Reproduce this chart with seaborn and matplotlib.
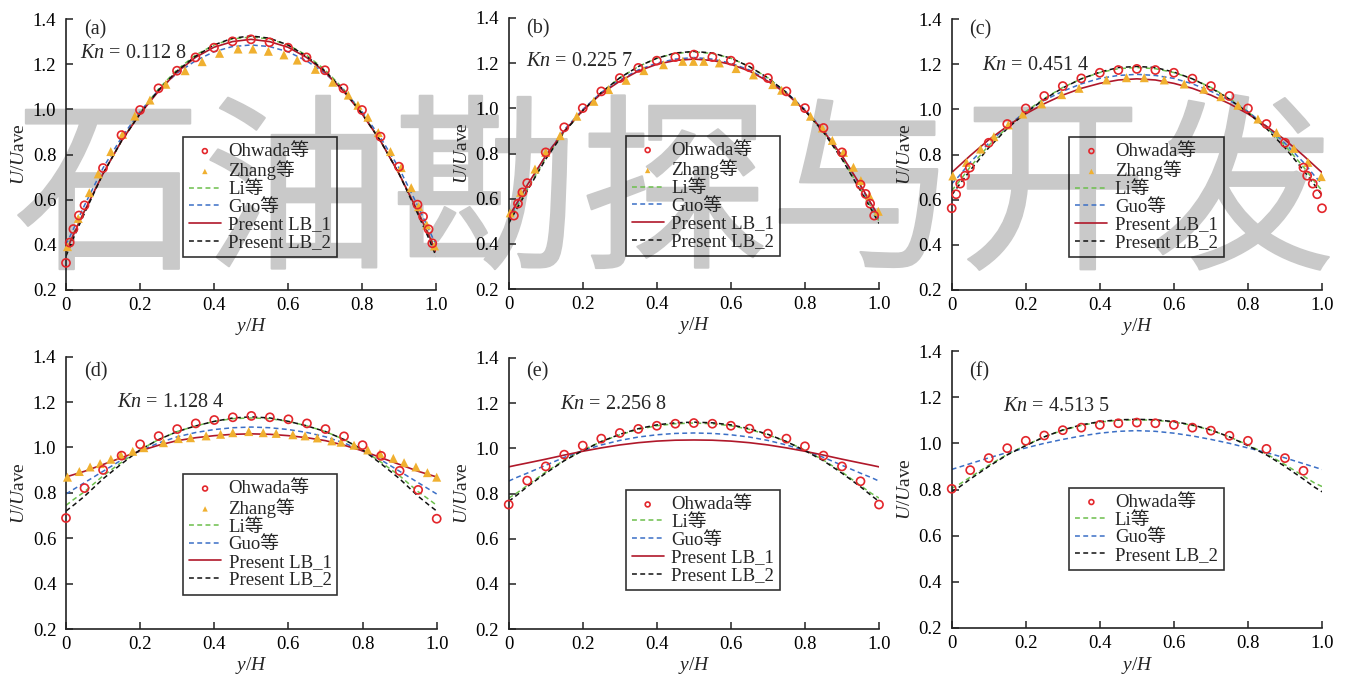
import matplotlib
matplotlib.use("Agg")
import matplotlib.pyplot as plt
import matplotlib.patheffects as pe
import seaborn as sns

sns.set_theme(style="ticks")
plt.rcParams['font.family'] = ['Liberation Serif', 'Noto Sans CJK SC']
plt.rcParams['mathtext.fontset'] = 'custom'
plt.rcParams['mathtext.it'] = 'Liberation Serif:italic'
plt.rcParams['mathtext.rm'] = 'Liberation Serif'

# x positions of the model curves
line_y = [0, 0.02, 0.05, 0.1, 0.15, 0.2, 0.25, 0.3, 0.35, 0.4, 0.45, 0.5,
          0.55, 0.6, 0.65, 0.7, 0.75, 0.8, 0.85, 0.9, 0.95, 0.98, 1.0]
grid21 = [0, 0.05, 0.1, 0.15, 0.2, 0.25, 0.3, 0.35, 0.4, 0.45, 0.5,
          0.55, 0.6, 0.65, 0.7, 0.75, 0.8, 0.85, 0.9, 0.95, 1.0]

kn_labels = ["0.112 8", "0.225 7", "0.451 4", "1.128 4", "2.256 8", "4.513 5"]
panel_tags = ["(a)", "(b)", "(c)", "(d)", "(e)", "(f)"]

# (a) Kn = 0.1128
ohw_a_x = [0, 0.01, 0.02, 0.035, 0.05, 0.1, 0.15, 0.2, 0.25, 0.3, 0.35, 0.4, 0.45, 0.5,
           0.55, 0.6, 0.65, 0.7, 0.75, 0.8, 0.85, 0.9, 0.95, 0.965, 0.98, 0.99]
ohw_a_u = [0.32, 0.41, 0.47, 0.53, 0.575, 0.74, 0.886, 0.997, 1.093, 1.171, 1.23, 1.273, 1.301, 1.31,
           1.297, 1.273, 1.23, 1.173, 1.093, 0.997, 0.879, 0.746, 0.578, 0.525, 0.469, 0.407]
zh_a_x = [0.004, 0.033, 0.063, 0.087, 0.121, 0.153, 0.186, 0.227, 0.270, 0.322, 0.368, 0.415, 0.465, 0.505,
          0.547, 0.589, 0.625, 0.674, 0.721, 0.763, 0.789, 0.816, 0.844, 0.877, 0.906, 0.933, 0.953, 0.975, 0.996]
zh_a_u = [0.392, 0.517, 0.631, 0.714, 0.813, 0.889, 0.970, 1.041, 1.111, 1.171, 1.211, 1.248, 1.267, 1.267,
          1.257, 1.241, 1.218, 1.177, 1.120, 1.063, 1.018, 0.965, 0.897, 0.813, 0.742, 0.653, 0.569, 0.488, 0.395]
li_a = [0.38, 0.45, 0.55, 0.715, 0.86, 0.985, 1.09, 1.175, 1.24, 1.285, 1.312, 1.32,
        1.312, 1.285, 1.24, 1.175, 1.09, 0.985, 0.86, 0.715, 0.55, 0.45, 0.38]
guo_a = [0.40, 0.47, 0.575, 0.74, 0.875, 0.99, 1.085, 1.16, 1.215, 1.255, 1.278, 1.285,
         1.278, 1.255, 1.215, 1.16, 1.085, 0.99, 0.875, 0.74, 0.575, 0.47, 0.40]
lb1_a = [0.37, 0.445, 0.55, 0.715, 0.86, 0.98, 1.08, 1.165, 1.23, 1.275, 1.30, 1.31,
         1.30, 1.275, 1.23, 1.165, 1.08, 0.98, 0.86, 0.715, 0.55, 0.445, 0.37]
lb2_a = [0.35, 0.43, 0.54, 0.715, 0.86, 0.98, 1.085, 1.17, 1.235, 1.285, 1.315, 1.325,
         1.315, 1.285, 1.235, 1.17, 1.085, 0.98, 0.86, 0.715, 0.54, 0.43, 0.35]

# (b) Kn = 0.2257
ohw_b_x = [0.014, 0.025, 0.037, 0.05, 0.1, 0.15, 0.2, 0.25, 0.3, 0.35, 0.4, 0.45, 0.5,
           0.55, 0.6, 0.65, 0.7, 0.75, 0.8, 0.85, 0.9, 0.95, 0.964, 0.976, 0.987]
ohw_b_u = [0.525, 0.578, 0.628, 0.669, 0.805, 0.916, 1.001, 1.075, 1.134, 1.179, 1.211, 1.227, 1.238,
           1.227, 1.211, 1.182, 1.134, 1.075, 1.001, 0.913, 0.805, 0.662, 0.621, 0.578, 0.525]
zh_b_x = [0.004, 0.032, 0.071, 0.1, 0.139, 0.184, 0.230, 0.270, 0.317, 0.365, 0.418, 0.470, 0.499, 0.527,
          0.569, 0.614, 0.661, 0.713, 0.737, 0.773, 0.815, 0.847, 0.874, 0.904, 0.931, 0.951, 0.974, 0.998]
zh_b_u = [0.537, 0.628, 0.731, 0.805, 0.879, 0.965, 1.031, 1.083, 1.124, 1.167, 1.193, 1.208, 1.208, 1.208,
          1.201, 1.176, 1.148, 1.105, 1.080, 1.031, 0.965, 0.913, 0.858, 0.805, 0.739, 0.680, 0.613, 0.544]
li_b = [0.50, 0.56, 0.64, 0.78, 0.895, 0.99, 1.07, 1.135, 1.185, 1.222, 1.243, 1.25,
        1.243, 1.222, 1.185, 1.135, 1.07, 0.99, 0.895, 0.78, 0.64, 0.56, 0.50]
guo_b = [0.51, 0.57, 0.655, 0.79, 0.905, 0.995, 1.07, 1.125, 1.17, 1.20, 1.218, 1.225,
         1.218, 1.20, 1.17, 1.125, 1.07, 0.995, 0.905, 0.79, 0.655, 0.57, 0.51]
lb1_b = [0.52, 0.575, 0.66, 0.79, 0.90, 0.99, 1.065, 1.12, 1.165, 1.195, 1.212, 1.218,
         1.212, 1.195, 1.165, 1.12, 1.065, 0.99, 0.90, 0.79, 0.66, 0.575, 0.52]
lb2_b = [0.49, 0.55, 0.635, 0.775, 0.895, 0.99, 1.07, 1.135, 1.185, 1.222, 1.245, 1.252,
         1.245, 1.222, 1.185, 1.135, 1.07, 0.99, 0.895, 0.775, 0.635, 0.55, 0.49]

# (c) Kn = 0.4514
ohw_c_x = [0, 0.012, 0.023, 0.036, 0.049, 0.1, 0.15, 0.2, 0.25, 0.3, 0.35, 0.4, 0.45, 0.5,
           0.55, 0.6, 0.65, 0.7, 0.75, 0.8, 0.85, 0.9, 0.95, 0.96, 0.975, 0.987, 1.0]
ohw_c_u = [0.562, 0.624, 0.671, 0.706, 0.742, 0.852, 0.935, 1.004, 1.059, 1.103, 1.137, 1.162, 1.174, 1.179,
           1.174, 1.162, 1.136, 1.103, 1.059, 1.004, 0.935, 0.852, 0.742, 0.706, 0.671, 0.624, 0.562]
zh_c_x = [0.003, 0.040, 0.078, 0.114, 0.153, 0.192, 0.243, 0.297, 0.344, 0.418, 0.472,
          0.520, 0.574, 0.628, 0.681, 0.727, 0.773, 0.827, 0.877, 0.924, 0.962, 0.998]
zh_c_u = [0.705, 0.765, 0.824, 0.879, 0.931, 0.979, 1.024, 1.065, 1.093, 1.130, 1.140,
          1.140, 1.130, 1.112, 1.089, 1.056, 1.018, 0.957, 0.897, 0.827, 0.765, 0.702]
li_c = [0.64, 0.68, 0.745, 0.84, 0.92, 0.99, 1.048, 1.097, 1.135, 1.163, 1.18, 1.185,
        1.18, 1.163, 1.135, 1.097, 1.048, 0.99, 0.92, 0.84, 0.745, 0.68, 0.64]
guo_c = [0.67, 0.705, 0.765, 0.85, 0.925, 0.99, 1.04, 1.08, 1.113, 1.137, 1.15, 1.155,
         1.15, 1.137, 1.113, 1.08, 1.04, 0.99, 0.925, 0.85, 0.765, 0.705, 0.67]
lb1_c = [0.72, 0.75, 0.795, 0.865, 0.925, 0.98, 1.025, 1.063, 1.093, 1.115, 1.13, 1.135,
         1.13, 1.115, 1.093, 1.063, 1.025, 0.98, 0.925, 0.865, 0.795, 0.75, 0.72]
lb2_c = [0.62, 0.665, 0.73, 0.83, 0.915, 0.985, 1.045, 1.095, 1.135, 1.165, 1.185, 1.19,
         1.185, 1.165, 1.135, 1.095, 1.045, 0.985, 0.915, 0.83, 0.73, 0.665, 0.62]

# (d) Kn = 1.1284
ohw_d_u = [0.689, 0.821, 0.901, 0.964, 1.014, 1.05, 1.081, 1.106, 1.121, 1.133, 1.139,
           1.133, 1.124, 1.106, 1.081, 1.049, 1.010, 0.963, 0.897, 0.813, 0.686]
zh_d_x = [0.004, 0.036, 0.065, 0.092, 0.121, 0.148, 0.180, 0.21, 0.263, 0.303, 0.336, 0.378, 0.417, 0.450, 0.493,
          0.532, 0.567, 0.612, 0.645, 0.678, 0.717, 0.742, 0.777, 0.814, 0.847, 0.883, 0.912, 0.944, 0.975, 1.0]
zh_d_u = [0.869, 0.894, 0.914, 0.929, 0.948, 0.966, 0.983, 0.999, 1.021, 1.039, 1.043, 1.051, 1.058, 1.065, 1.070,
          1.065, 1.062, 1.056, 1.051, 1.042, 1.029, 1.023, 1.010, 0.989, 0.973, 0.952, 0.933, 0.914, 0.889, 0.869]
li_d = [0.745, 0.77, 0.805, 0.875, 0.935, 0.99, 1.035, 1.07, 1.095, 1.115, 1.127, 1.13,
        1.127, 1.115, 1.095, 1.07, 1.035, 0.99, 0.935, 0.875, 0.805, 0.77, 0.745]
guo_d = [0.795, 0.815, 0.845, 0.895, 0.945, 0.985, 1.02, 1.047, 1.066, 1.079, 1.087, 1.09,
         1.087, 1.079, 1.066, 1.047, 1.02, 0.985, 0.945, 0.895, 0.845, 0.815, 0.795]
lb1_d = [0.87, 0.88, 0.895, 0.925, 0.955, 0.985, 1.01, 1.03, 1.043, 1.052, 1.058, 1.06,
         1.058, 1.052, 1.043, 1.03, 1.01, 0.985, 0.955, 0.925, 0.895, 0.88, 0.87]
lb2_d = [0.72, 0.745, 0.785, 0.862, 0.928, 0.99, 1.035, 1.07, 1.095, 1.115, 1.13, 1.135,
         1.13, 1.115, 1.095, 1.07, 1.035, 0.99, 0.928, 0.862, 0.785, 0.745, 0.72]

# (e) Kn = 2.2568
ohw_e_u = [0.751, 0.857, 0.920, 0.972, 1.012, 1.043, 1.068, 1.086, 1.100, 1.109, 1.112,
           1.109, 1.100, 1.087, 1.065, 1.043, 1.009, 0.968, 0.920, 0.854, 0.751]
li_e = [0.78, 0.80, 0.835, 0.895, 0.948, 0.992, 1.03, 1.06, 1.084, 1.10, 1.109, 1.112,
        1.109, 1.10, 1.084, 1.06, 1.03, 0.992, 0.948, 0.895, 0.835, 0.80, 0.78]
guo_e = [0.855, 0.87, 0.89, 0.925, 0.96, 0.99, 1.015, 1.035, 1.05, 1.06, 1.066, 1.068,
         1.066, 1.06, 1.05, 1.035, 1.015, 0.99, 0.96, 0.925, 0.89, 0.87, 0.855]
lb1_e = [0.918, 0.925, 0.935, 0.952, 0.97, 0.987, 1.002, 1.015, 1.025, 1.032, 1.036, 1.037,
         1.036, 1.032, 1.025, 1.015, 1.002, 0.987, 0.97, 0.952, 0.935, 0.925, 0.918]
lb2_e = [0.765, 0.79, 0.83, 0.89, 0.945, 0.99, 1.03, 1.062, 1.087, 1.104, 1.113, 1.116,
         1.113, 1.104, 1.087, 1.062, 1.03, 0.99, 0.945, 0.89, 0.83, 0.79, 0.765]

# (f) Kn = 4.5135
ohw_f_x = [0, 0.05, 0.1, 0.15, 0.2, 0.25, 0.3, 0.35, 0.4, 0.45, 0.5,
           0.55, 0.6, 0.65, 0.7, 0.75, 0.8, 0.85, 0.9, 0.95]
ohw_f_u = [0.803, 0.884, 0.936, 0.979, 1.011, 1.034, 1.057, 1.068, 1.080, 1.087, 1.090,
           1.087, 1.080, 1.068, 1.055, 1.033, 1.011, 0.976, 0.936, 0.881]
li_f = [0.805, 0.822, 0.853, 0.905, 0.952, 0.992, 1.028, 1.057, 1.078, 1.092, 1.10, 1.102,
        1.10, 1.092, 1.078, 1.057, 1.028, 0.993, 0.954, 0.908, 0.858, 0.828, 0.813]
guo_f = [0.887, 0.897, 0.912, 0.937, 0.96, 0.98, 1.0, 1.017, 1.032, 1.044, 1.052, 1.055,
         1.052, 1.044, 1.032, 1.017, 1.0, 0.98, 0.96, 0.937, 0.912, 0.897, 0.887]
lb2_f = [0.79, 0.81, 0.845, 0.90, 0.95, 0.99, 1.028, 1.058, 1.08, 1.094, 1.102, 1.104,
         1.102, 1.094, 1.08, 1.058, 1.028, 0.99, 0.95, 0.90, 0.845, 0.81, 0.79]

c_ohw = '#e3262b'
c_zh = '#f0b030'
c_li = '#6cbf4c'
c_guo = '#3b6fc6'
c_lb1 = '#b0182a'
c_lb2 = '#111111'

panels = [
    dict(ohw=(ohw_a_x, ohw_a_u), zh=(zh_a_x, zh_a_u), li=li_a, guo=guo_a, lb1=lb1_a, lb2=lb2_a),
    dict(ohw=(ohw_b_x, ohw_b_u), zh=(zh_b_x, zh_b_u), li=li_b, guo=guo_b, lb1=lb1_b, lb2=lb2_b),
    dict(ohw=(ohw_c_x, ohw_c_u), zh=(zh_c_x, zh_c_u), li=li_c, guo=guo_c, lb1=lb1_c, lb2=lb2_c),
    dict(ohw=(grid21, ohw_d_u), zh=(zh_d_x, zh_d_u), li=li_d, guo=guo_d, lb1=lb1_d, lb2=lb2_d),
    dict(ohw=(grid21, ohw_e_u), zh=None, li=li_e, guo=guo_e, lb1=lb1_e, lb2=lb2_e),
    dict(ohw=(ohw_f_x, ohw_f_u), zh=None, li=li_f, guo=guo_f, lb1=None, lb2=lb2_f),
]

W, H = 1349, 679
# axes boxes in pixels: left, top, right, bottom
boxes = [(66, 19, 436, 290), (508.7, 18, 879, 289), (951.7, 19, 1322, 290),
         (66, 356.7, 436.7, 629), (508.7, 358, 879, 629), (951.7, 351, 1322, 628)]
leg_anchor = [(0.316, 0.565), (0.316, 0.565), (0.318, 0.565),
              (0.316, 0.568), (0.316, 0.512), (0.318, 0.506)]
kn_pos = [(0.038, 0.871), (0.047, 0.841), (0.082, 0.827),
          (0.138, 0.831), (0.139, 0.830), (0.139, 0.801)]
tag_pos = [(0.049, 0.959), (0.047, 0.959), (0.047, 0.959),
           (0.049, 0.945), (0.047, 0.948), (0.047, 0.924)]

fig = plt.figure(figsize=(W / 100, H / 100), dpi=100)
fig.patch.set_facecolor('white')

# journal watermark behind the plots
fig.text(0.5, 0.705, "石油勘探与开发", fontsize=136, color='#c9c9c9',
         family='Noto Sans CJK SC', ha='center', va='center', zorder=-5,
         path_effects=[pe.withStroke(linewidth=1.5, foreground='#c9c9c9')])

dash = (0, (3.2, 2.2))
for i, p in enumerate(panels):
    l, t, r, b = boxes[i]
    ax = fig.add_axes([l / W, 1 - b / H, (r - l) / W, (b - t) / H])
    ax.patch.set_alpha(0)

    sns.lineplot(x=line_y, y=p['li'], ax=ax, color=c_li, lw=1.1, linestyle=dash, label='Li等')
    sns.lineplot(x=line_y, y=p['guo'], ax=ax, color=c_guo, lw=1.1, linestyle=dash, label='Guo等')
    if p['lb1'] is not None:
        sns.lineplot(x=line_y, y=p['lb1'], ax=ax, color=c_lb1, lw=1.2, label='Present LB_1')
    sns.lineplot(x=line_y, y=p['lb2'], ax=ax, color=c_lb2, lw=1.1, linestyle=dash, label='Present LB_2')
    if p['zh'] is not None:
        sns.scatterplot(x=p['zh'][0], y=p['zh'][1], ax=ax, marker='^', s=42, color=c_zh,
                        edgecolor='none', linewidth=0, clip_on=False, zorder=4, label='Zhang等')
    sns.scatterplot(x=p['ohw'][0], y=p['ohw'][1], ax=ax, marker='o', s=34, facecolor='none',
                    edgecolor=c_ohw, linewidth=1.2, clip_on=False, zorder=5, label='Ohwada等')

    hs, ls = ax.get_legend_handles_labels()
    order = ['Ohwada等', 'Zhang等', 'Li等', 'Guo等', 'Present LB_1', 'Present LB_2']
    pairs = dict(zip(ls, hs))
    labels = [o for o in order if o in pairs]
    handles = [pairs[o] for o in labels]
    leg = ax.legend(handles, labels, loc='upper left', bbox_to_anchor=leg_anchor[i],
                    borderaxespad=0, fontsize=13.5, frameon=True, fancybox=False,
                    edgecolor='black', facecolor='none', framealpha=None,
                    handlelength=1.7, handletextpad=0.4, labelspacing=0.03,
                    borderpad=0.32, markerscale=0.6)
    leg.get_frame().set_linewidth(1.2)

    ax.set_xlim(0, 1.0)
    ax.set_ylim(0.2, 1.4)
    ax.set_xticks([0, 0.2, 0.4, 0.6, 0.8, 1.0])
    ax.set_xticklabels(['0', '0.2', '0.4', '0.6', '0.8', '1.0'])
    ax.set_yticks([0.2, 0.4, 0.6, 0.8, 1.0, 1.2, 1.4])
    ax.set_yticklabels(['0.2', '0.4', '0.6', '0.8', '1.0', '1.2', '1.4'])
    ax.tick_params(axis='both', direction='in', length=5, width=1.1, colors='#222222',
                   labelsize=13.5, labelcolor='black')
    ax.tick_params(axis='y', pad=7)
    ax.tick_params(axis='x', pad=5)
    for side in ['top', 'right']:
        ax.spines[side].set_visible(False)
    for side in ['left', 'bottom']:
        ax.spines[side].set_linewidth(1.2)
        ax.spines[side].set_color('#222222')

    ax.set_xlabel('$y$/$H$', fontsize=14)
    ax.set_ylabel('$U$/$U$ave', fontsize=14)
    ax.xaxis.set_label_coords(0.5, -0.097)
    ax.yaxis.set_label_coords(-0.103, 0.5)

    ax.text(tag_pos[i][0], tag_pos[i][1], panel_tags[i], transform=ax.transAxes,
            fontsize=14.5, va='center', ha='left')
    ax.text(kn_pos[i][0], kn_pos[i][1], '$Kn$ = ' + kn_labels[i], transform=ax.transAxes,
            fontsize=14.5, va='center', ha='left')

fig.savefig('out.png', dpi=100)
